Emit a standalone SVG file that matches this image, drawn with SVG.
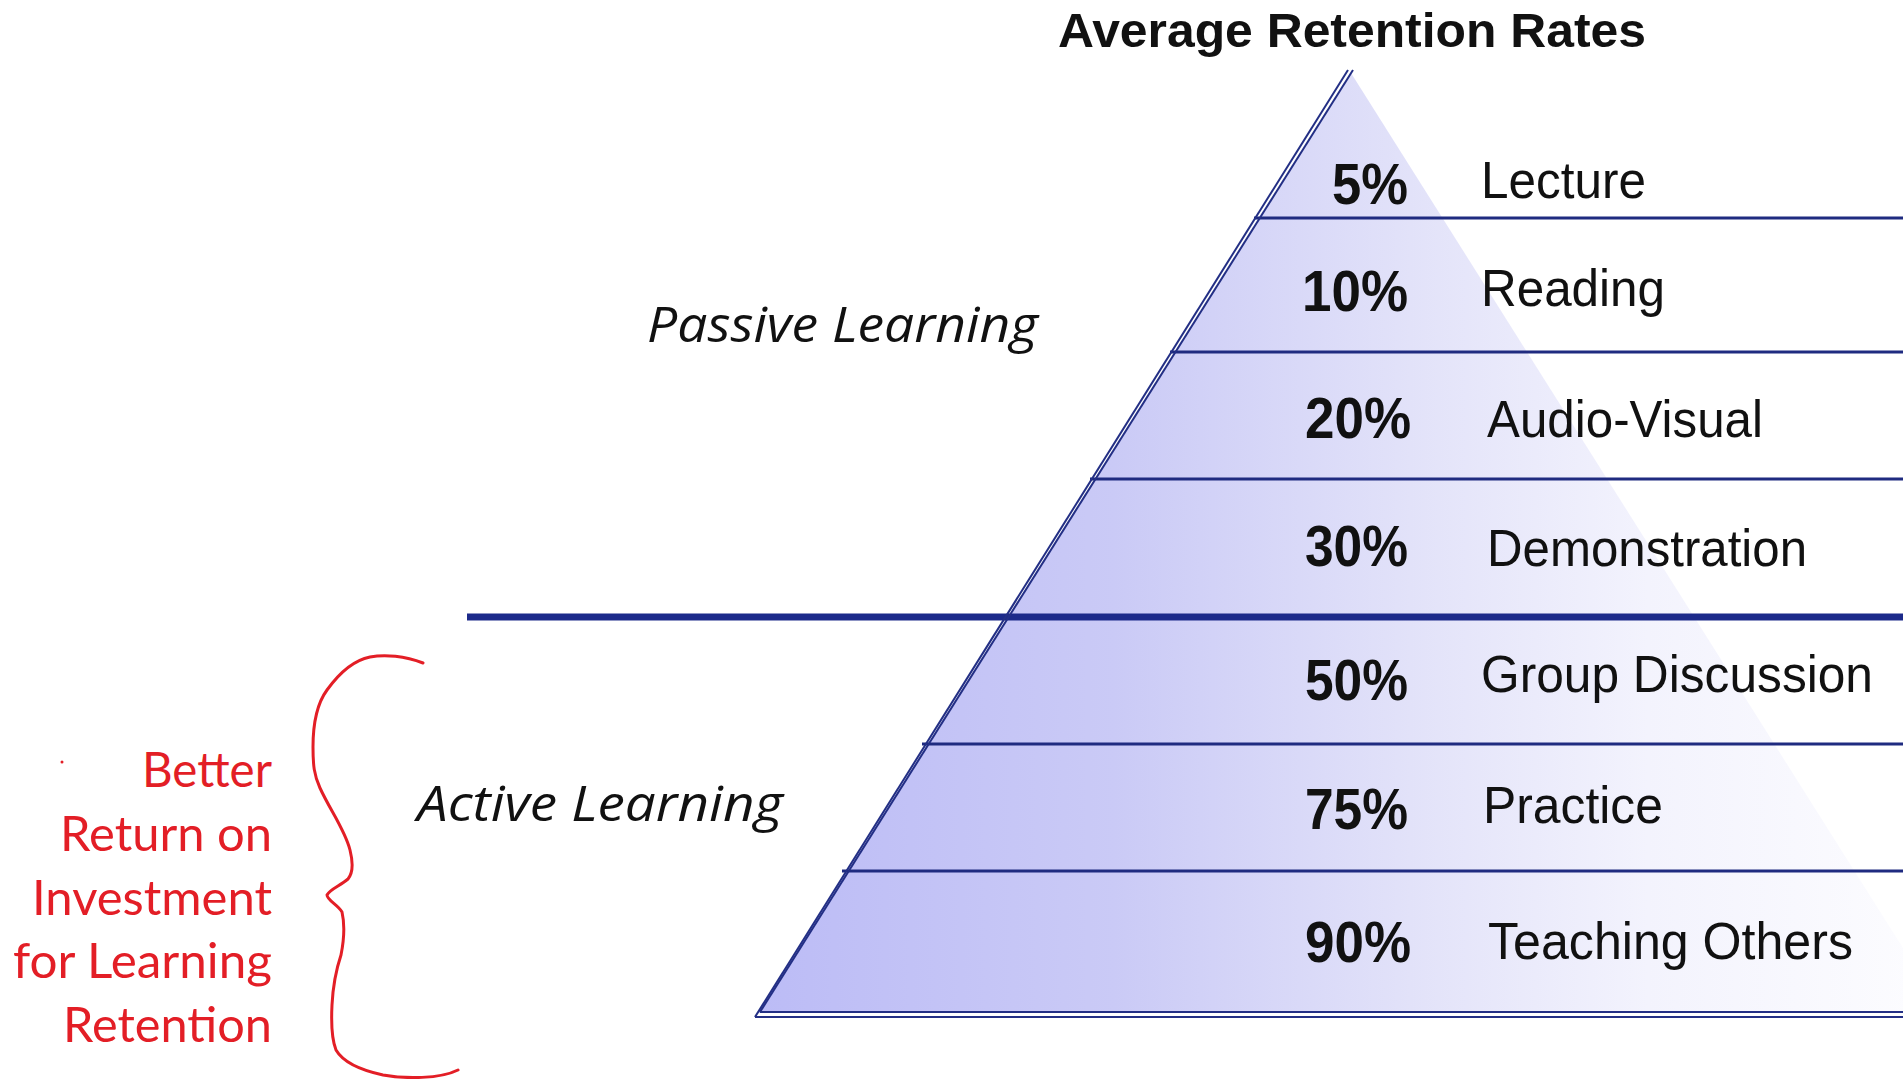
<svg xmlns="http://www.w3.org/2000/svg" width="1903" height="1079" viewBox="0 0 1903 1079">
<defs>
<linearGradient id="pyr" gradientUnits="userSpaceOnUse" x1="758" y1="0" x2="1944" y2="0">
<stop offset="0" stop-color="#bcbcf6"/>
<stop offset="0.3" stop-color="#cacaf6"/>
<stop offset="0.55" stop-color="#e2e2f9"/>
<stop offset="0.75" stop-color="#f3f3fd"/>
<stop offset="1" stop-color="#fdfdff"/>
</linearGradient>
<style>
.pct{font-family:"Liberation Sans",Arial,sans-serif;font-weight:bold;font-size:58px;fill:#111;text-anchor:end}
.lbl{font-family:"Liberation Sans",Arial,sans-serif;font-size:52px;fill:#111}
.side{font-family:"Open Sans",sans-serif;font-style:italic;font-size:50px;fill:#111}
.red{font-family:Lato,"Open Sans",sans-serif;font-size:48px;fill:#e31e26;text-anchor:end}
.rule{stroke:#1f2b80;stroke-width:3;fill:none}
.edge{stroke:#232f85;stroke-width:2;fill:none}
</style>
</defs>
<rect width="1903" height="1079" fill="#ffffff"/>
<g id="pyramid">
<polygon points="1351,73 758,1013 1944,1013" fill="url(#pyr)"/>
</g>
<g id="connectors">
<line class="rule" x1="1254" y1="218" x2="1903" y2="218"/>
<line class="rule" x1="1170" y1="352" x2="1903" y2="352"/>
<line class="rule" x1="1090" y1="479" x2="1903" y2="479"/>
<line x1="467" y1="617" x2="1903" y2="617" stroke="#1c2a8a" stroke-width="7"/>
<line class="rule" x1="922" y1="744" x2="1903" y2="744"/>
<line class="rule" x1="842" y1="871" x2="1903" y2="871"/>
<line class="edge" x1="1353" y1="70" x2="760" y2="1012"/>
<line class="edge" x1="1348" y1="70" x2="755" y2="1017"/>
<line class="edge" x1="760" y1="1012" x2="1903" y2="1012"/>
<line class="edge" x1="755" y1="1017" x2="1903" y2="1017" stroke-width="2.5"/>
</g>
<g id="title">
<text x="1058" y="47" font-family="'Liberation Sans',Arial,sans-serif" font-weight="bold" font-size="48" fill="#111" textLength="588" lengthAdjust="spacingAndGlyphs">Average Retention Rates</text>
</g>
<g id="row-lecture"><text class="pct" x="1408" y="204" textLength="76" lengthAdjust="spacingAndGlyphs">5%</text><text class="lbl" x="1481" y="198" textLength="165" lengthAdjust="spacingAndGlyphs">Lecture</text></g>
<g id="row-reading"><text class="pct" x="1408" y="311" textLength="106" lengthAdjust="spacingAndGlyphs">10%</text><text class="lbl" x="1481" y="306" textLength="184" lengthAdjust="spacingAndGlyphs">Reading</text></g>
<g id="row-audio"><text class="pct" x="1411" y="438" textLength="106" lengthAdjust="spacingAndGlyphs">20%</text><text class="lbl" x="1487" y="437" textLength="276" lengthAdjust="spacingAndGlyphs">Audio-Visual</text></g>
<g id="row-demo"><text class="pct" x="1408" y="566" textLength="103" lengthAdjust="spacingAndGlyphs">30%</text><text class="lbl" x="1487" y="566" textLength="320" lengthAdjust="spacingAndGlyphs">Demonstration</text></g>
<g id="row-group"><text class="pct" x="1408" y="700" textLength="103" lengthAdjust="spacingAndGlyphs">50%</text><text class="lbl" x="1481" y="692" textLength="392" lengthAdjust="spacingAndGlyphs">Group Discussion</text></g>
<g id="row-practice"><text class="pct" x="1408" y="829" textLength="103" lengthAdjust="spacingAndGlyphs">75%</text><text class="lbl" x="1483" y="823" textLength="180" lengthAdjust="spacingAndGlyphs">Practice</text></g>
<g id="row-teaching"><text class="pct" x="1411" y="962" textLength="106" lengthAdjust="spacingAndGlyphs">90%</text><text class="lbl" x="1488" y="959" textLength="365" lengthAdjust="spacingAndGlyphs">Teaching Others</text></g>
<g id="passive"><text class="side" x="647" y="342" textLength="391" lengthAdjust="spacingAndGlyphs">Passive Learning</text></g>
<g id="active"><text class="side" x="417" y="821" textLength="366" lengthAdjust="spacingAndGlyphs">Active Learning</text></g>
<g id="annotation">
<circle cx="62" cy="762" r="1.5" fill="#e31e26"/>
<text class="red" x="272" y="787" textLength="130" lengthAdjust="spacingAndGlyphs">Better</text>
<text class="red" x="272" y="851" textLength="212" lengthAdjust="spacingAndGlyphs">Return on</text>
<text class="red" x="272" y="915" textLength="240" lengthAdjust="spacingAndGlyphs">Investment</text>
<text class="red" x="272" y="978" textLength="259" lengthAdjust="spacingAndGlyphs">for Learning</text>
<text class="red" x="272" y="1042" textLength="209" lengthAdjust="spacingAndGlyphs">Retention</text>
</g>
<g id="brace">
<path d="M423,663 C405,656 385,654 370,657 C355,660 340,672 327,690 C316,705 313,725 313,747 C313,765 314,775 320,788 C330,810 345,830 350,850 C353,862 353,873 348,879 C340,886 330,889 327,895 C327,900 338,905 342,912 C345,925 344,940 341,955 C336,970 333,985 332,1005 C331,1025 332,1040 336,1050 C343,1062 360,1070 383,1075 C405,1079 440,1079 458,1070" fill="none" stroke="#e31e26" stroke-width="3" stroke-linecap="round"/>
</g>
</svg>
